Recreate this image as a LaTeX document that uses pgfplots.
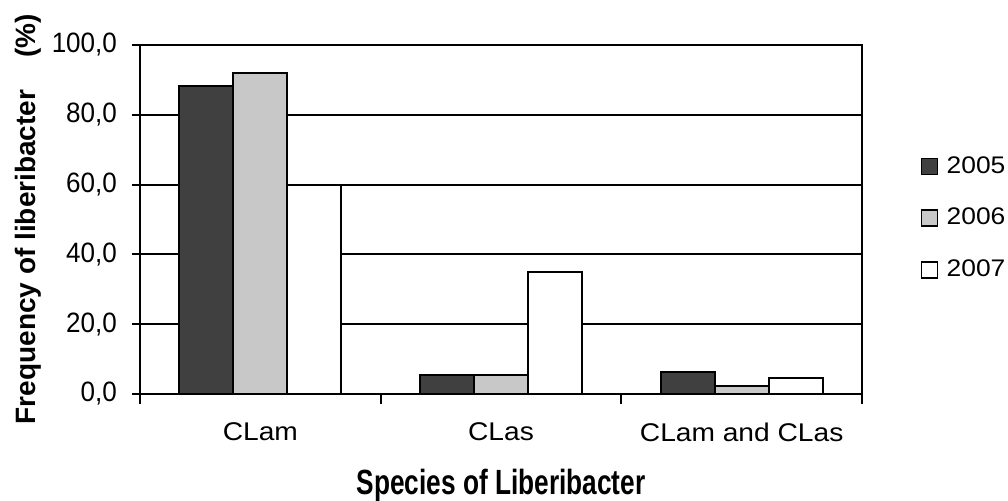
\documentclass[border=0pt]{standalone}
\usepackage{pgfplots}
\pgfplotsset{compat=1.18}
\usepackage{fontspec}
\setmainfont{Liberation Sans}
\newfontfamily\narrowfont[FakeStretch=0.75]{Liberation Sans}
\newfontfamily\ytfont[FakeStretch=0.93]{Liberation Sans}
\newfontfamily\xtfont[FakeStretch=1.1]{Liberation Sans}
\newfontfamily\legfont[FakeStretch=1.1]{Liberation Sans}
\definecolor{c05}{HTML}{404040}
\definecolor{c06}{HTML}{C8C8C8}
\begin{document}
\begin{tikzpicture}
\path[use as bounding box] (0,0) rectangle (504pt,250pt);
\begin{axis}[
  at={(70pt,53pt)}, anchor=south west,
  scale only axis, width=361pt, height=174.5pt,
  xmin=-0.5, xmax=2.5, ymin=0, ymax=100,
  ybar=0pt, bar width=27pt,
  axis line style={line width=1pt},
  xtick={0,1,2}, xticklabels={CLam,CLas,CLam and CLas},
  minor xtick={-0.5,0.5,1.5,2.5},
  major x tick style={draw=none},
  minor x tick style={line width=1pt, black},
  minor tick length=5pt,
  ytick={0,20,40,60,80,100},
  yticklabels={{0,0},{20,0},{40,0},{60,0},{80,0},{100,0}},
  ytick style={line width=1pt, black},
  major tick length=4pt,
  tick align=outside,
  xtick pos=bottom, ytick pos=left,
  ymajorgrids, grid style={black, line width=1pt},
  xticklabel style={font=\xtfont\fontsize{12.8}{15}\selectfont, yshift=-7pt},
  yticklabel style={font=\ytfont\fontsize{14}{16}\selectfont, xshift=-4pt},
  xlabel={Species of Liberibacter},
  xlabel style={font=\narrowfont\bfseries\fontsize{17.5}{20}\selectfont, at={(axis description cs:0.5,-0.262)}, anchor=center},
  ylabel={Frequency of liberibacter\hspace{16pt}(\%)},
  ylabel style={font=\bfseries\fontsize{14}{16}\selectfont, at={(axis description cs:-0.155,0.501)}, anchor=center},
  legend style={at={(axis description cs:1.081,0.504)}, anchor=west, draw=none, fill=none,
    font=\legfont\fontsize{12}{14}\selectfont, row sep=12pt, inner sep=0pt},
  legend cell align=left,
  legend image code/.code={\draw[#1, line width=0.8pt] (0pt,-4pt) rectangle (8pt,4pt); \path (10pt,0pt);},
  every axis plot/.append style={draw=black, line width=1pt},
]
\addplot[fill=c05] coordinates {(0,88.3) (1,5.4) (2,6.3)};
\addplot[fill=c06] coordinates {(0,92.1) (1,5.4) (2,2.3)};
\addplot[fill=white] coordinates {(0,60.0) (1,34.9) (2,4.7)};
\legend{2005,2006,2007}
\end{axis}
\end{tikzpicture}
\end{document}
